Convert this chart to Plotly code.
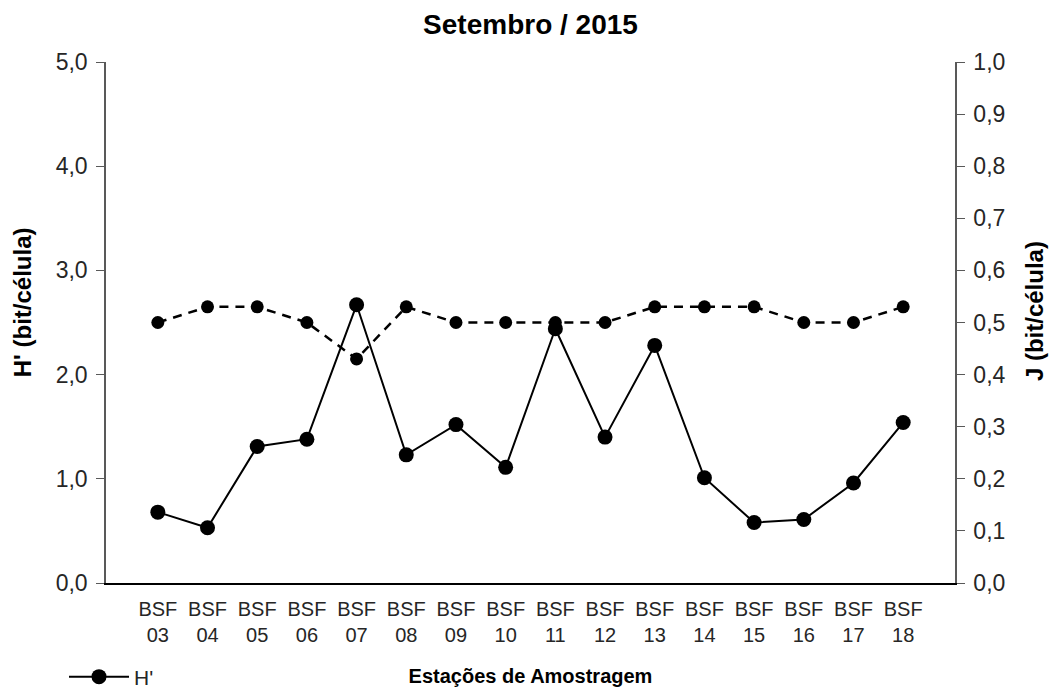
import plotly.graph_objects as go

stations = ["BSF<br>03", "BSF<br>04", "BSF<br>05", "BSF<br>06", "BSF<br>07", "BSF<br>08",
            "BSF<br>09", "BSF<br>10", "BSF<br>11", "BSF<br>12", "BSF<br>13", "BSF<br>14",
            "BSF<br>15", "BSF<br>16", "BSF<br>17", "BSF<br>18"]
h_values = [0.68, 0.53, 1.31, 1.38, 2.67, 1.23, 1.52, 1.11, 2.44, 1.40, 2.28, 1.01,
            0.58, 0.61, 0.96, 1.54]
j_values = [0.50, 0.53, 0.53, 0.50, 0.43, 0.53, 0.50, 0.50, 0.50, 0.50, 0.53, 0.53,
            0.53, 0.50, 0.50, 0.53]

FONT = "Liberation Sans, Arial, sans-serif"
TXT = "#262626"
W, H = 1049, 682

fig = go.Figure()
fig.add_trace(go.Scatter(
    x=stations, y=j_values, name="J", yaxis="y2", mode="lines+markers",
    line=dict(color="black", width=2.5, dash="9px,7px"),
    marker=dict(color="black", size=13), showlegend=False))
fig.add_trace(go.Scatter(
    x=stations, y=h_values, name="H'", mode="lines+markers",
    line=dict(color="black", width=2),
    marker=dict(color="black", size=15), showlegend=True))

fig.update_layout(
    width=W, height=H,
    margin=dict(l=98, r=102, t=54, b=107, autoexpand=False),
    paper_bgcolor="white", plot_bgcolor="white",
    separators=",.",
    font=dict(family=FONT, size=20, color=TXT),
    title=dict(text="<b>Setembro / 2015</b>", x=0.5, xref="paper", xanchor="center",
               y=1 - 16 / H, yanchor="middle",
               font=dict(family=FONT, size=28, color="black")),
    xaxis=dict(showline=True, linecolor="black", linewidth=2, ticks="",
               showgrid=False, zeroline=False, automargin=False,
               ticklabelstandoff=7,
               tickfont=dict(size=20, color=TXT),
               title=dict(text="<b>Estações de Amostragem</b>", standoff=24,
                          font=dict(size=20, color="black"))),
    yaxis=dict(range=[0, 5], dtick=1, tickformat=".1f", showline=True,
               linecolor="#595959", linewidth=1.5, ticks="outside", ticklen=8,
               tickcolor="#595959", showgrid=False, zeroline=False,
               automargin=False, ticklabelstandoff=4,
               tickfont=dict(size=23, color=TXT)),
    yaxis2=dict(range=[0, 1], dtick=0.1, tickformat=".1f", overlaying="y",
                side="right", showline=True, linecolor="#595959", linewidth=1.5,
                ticks="outside", ticklen=8, tickcolor="#595959", showgrid=False,
                zeroline=False, automargin=False, ticklabelstandoff=4,
                tickfont=dict(size=23, color=TXT)),
    legend=dict(x=56 / W, xref="container", y=1 - 669 / H, yref="container",
                xanchor="left", yanchor="middle", itemwidth=60,
                font=dict(size=21, color=TXT), bgcolor="rgba(0,0,0,0)"),
    annotations=[
        dict(text="<b>H' (bit/célula)</b>", textangle=-90, xref="paper", yref="paper",
             x=-0.0989, y=0.539, xanchor="center", yanchor="middle", showarrow=False,
             font=dict(size=24, color="black")),
        dict(text="<b>J (bit/célula)</b>", textangle=-90, xref="paper", yref="paper",
             x=1.0931, y=0.522, xanchor="center", yanchor="middle", showarrow=False,
             font=dict(size=24, color="black")),
    ],
)

fig.write_html("out.html")
